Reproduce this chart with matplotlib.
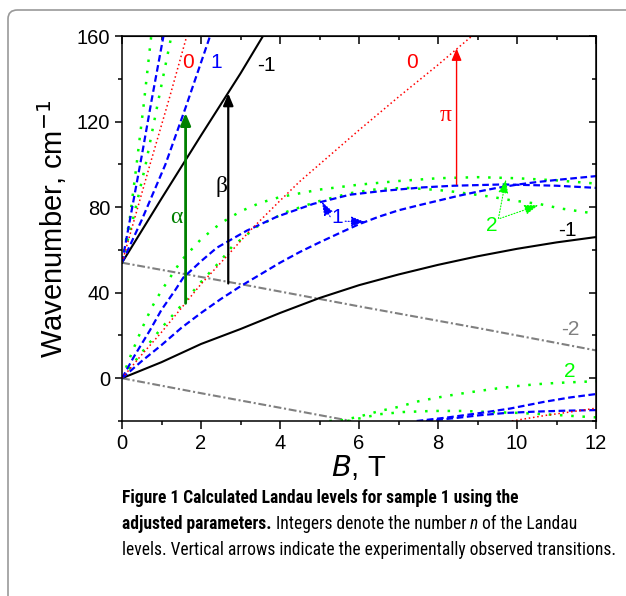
import matplotlib
matplotlib.use('Agg')
import matplotlib.pyplot as plt
from matplotlib.patches import FancyBboxPatch
from matplotlib.ticker import MultipleLocator

# ---- values (B in T, wavenumber in cm-1) ----
# levels that start at 0 cm-1
b_black_lo = [0, 1, 2, 3, 4, 5, 6, 7, 8, 9, 10, 11, 12]
v_black_lo = [0, 7.5, 16, 23, 30.5, 37.5, 43.5, 48.5, 53, 57, 60.5, 63.5, 66]
b_gray_lo = [0, 2, 4, 5.8]
v_gray_lo = [0, -7, -13.8, -20]
b_red_lo = [0, 0.5, 1, 1.6, 2, 2.7, 3.24, 4, 4.5, 5, 6, 7, 8, 8.86]
v_red_lo = [0, 11, 21.5, 35, 44, 58, 69, 83, 92, 100, 116, 131.5, 146.5, 160]
b_blueA_lo = [0, 0.3, 0.71, 1.0, 1.34, 1.55, 2.02, 2.4, 3.16, 3.92, 4.84, 5.77, 6.62, 7.6, 8.4, 9.65, 11, 12]
v_blueA_lo = [0, 10, 22.5, 32, 41, 47, 55, 61, 69, 75.5, 81.5, 85.8, 87.6, 89.2, 90, 90.6, 90, 89]
b_blueB_lo = [0, 0.5, 1, 1.5, 2, 2.5, 3, 3.5, 4, 4.5, 5, 5.5, 6, 6.5, 7, 7.5, 8, 8.5, 9, 9.5, 10, 10.5, 11, 11.5, 12]
v_blueB_lo = [0, 8, 15.5, 23.5, 30.5, 37, 43, 48.5, 54, 59, 63.5, 67.8, 72, 75.5, 78.5, 80.8, 83, 85.2, 87.2, 89, 90.5, 91.7, 92.7, 93.6, 94.5]
b_greenA_lo = [0, 0.25, 0.5, 0.75, 1, 1.5, 2, 2.5, 3, 3.5, 4, 5, 6, 7, 8, 9, 10, 11, 12]
v_greenA_lo = [0, 12, 23, 33, 41, 55, 65, 72.5, 78, 82, 84.7, 88.2, 90.5, 92.2, 93.5, 94, 93.5, 92.5, 91]
b_greenB_lo = [0, 0.5, 1, 1.5, 2, 2.5, 2.78, 3.41, 4.17, 4.93, 5.77, 6.5, 7.2, 8, 8.4, 9.36, 9.82, 10.58, 11.09, 11.85, 12]
v_greenB_lo = [0, 12, 23.5, 34, 45, 55, 61.4, 70.8, 77.8, 82.5, 86.5, 88.5, 89, 88, 87.2, 84.8, 83.3, 81.4, 79.4, 77.3, 77]

# levels that start at 54 cm-1
b_black_up = [0, 1, 2, 3, 3.57]
v_black_up = [54, 84, 113.5, 142.5, 160]
b_gray_up = [0, 3, 6, 9, 12]
v_gray_up = [54, 44, 33.6, 23.5, 13]
b_red_up = [0, 0.71, 1.2, 1.64]
v_red_up = [54, 100, 131, 160]
b_blueA_up = [0, 0.25, 0.5, 0.75, 1.05]
v_blueA_up = [54, 79, 104, 130, 160]
b_blueB_up = [0, 0.5, 1.1, 1.6, 2.23]
v_blueB_up = [54, 74, 100, 126, 160]
b_greenA_up = [0, 0.2, 0.37, 0.55, 0.74]
v_greenA_up = [54, 75, 100, 128, 160]
b_greenB_up = [0, 0.3, 0.6, 0.9, 1.25]
v_greenB_up = [54, 76, 100, 128, 160]

# levels coming in from below the frame
b_greenA_bt = [5.25, 5.6, 6.03, 6.53, 7.0, 7.5, 8.0, 8.47, 8.98, 9.49, 9.99, 10.5, 11.0, 12]
v_greenA_bt = [-20, -19.6, -17.8, -15.3, -13.4, -10.8, -9.0, -7.5, -6.1, -4.8, -3.7, -2.8, -2.2, -1.4]
b_greenB_bt = [5.7, 6.11, 6.53, 7.12, 7.88, 8.64, 9.32, 9.99, 10.67, 11.8, 12]
v_greenB_bt = [-20, -18.4, -16.8, -15.8, -15.3, -15.3, -15.8, -16.2, -16.8, -18.1, -18.3]
b_blueA_bt = [7.46, 8.22, 8.98, 9.82, 10.67, 11.34, 12]
v_blueA_bt = [-20, -18.4, -16.5, -14.2, -11.1, -9.0, -7.4]
b_blueB_bt = [7.7, 8.5, 9.06, 9.74, 10.5, 11.17, 12]
v_blueB_bt = [-20, -18.5, -17.3, -16.2, -15.6, -15.2, -14.9]
b_red_bt = [9.87, 10.75, 11.34, 12]
v_red_bt = [-20, -17.3, -15.8, -14.0]

# observed transitions: name, B, from, to
arrow_names = ['alpha', 'beta', 'pi']
arrow_b = [1.61, 2.69, 8.47]
arrow_from = [35, 44.3, 90.6]
arrow_to = [124, 133.2, 154.2]

W, H = 626, 596
fig = plt.figure(figsize=(W / 100, H / 100), dpi=100)
ax = fig.add_axes([122 / W, 1 - 421 / H, 474 / W, 385 / H])

blue = dict(color='#0000ff', lw=1.6, dashes=(3, 1.6))
green = dict(color='#00ff00', lw=1.8, dashes=(1, 3.5))
red = dict(color='#ff0000', lw=1.1, dashes=(1, 1.8))
gray = dict(color='#808080', lw=1.5, dashes=(3.8, 1.3, 1, 1.3))
black = dict(color='black', lw=1.5)

ax.plot(b_gray_lo, v_gray_lo, **gray)
ax.plot(b_gray_up, v_gray_up, **gray)
ax.plot(b_black_lo, v_black_lo, **black)
ax.plot(b_black_up, v_black_up, **black)
for bb, vv in [(b_greenA_lo, v_greenA_lo), (b_greenB_lo, v_greenB_lo),
               (b_greenA_up, v_greenA_up), (b_greenB_up, v_greenB_up),
               (b_greenA_bt, v_greenA_bt), (b_greenB_bt, v_greenB_bt)]:
    ax.plot(bb, vv, **green)
for bb, vv in [(b_blueA_lo, v_blueA_lo), (b_blueB_lo, v_blueB_lo),
               (b_blueA_up, v_blueA_up), (b_blueB_up, v_blueB_up),
               (b_blueA_bt, v_blueA_bt), (b_blueB_bt, v_blueB_bt)]:
    ax.plot(bb, vv, **blue)
for bb, vv in [(b_red_lo, v_red_lo), (b_red_up, v_red_up), (b_red_bt, v_red_bt)]:
    ax.plot(bb, vv, **red)

# vertical transition arrows
arrow_col = ['#008000', 'black', '#ff0000']
arrow_lw = [2.0, 1.6, 1.0]
for x, y0, y1, c, lw in zip(arrow_b, arrow_from, arrow_to, arrow_col, arrow_lw):
    ax.annotate('', xy=(x, y1), xytext=(x, y0),
                arrowprops=dict(arrowstyle='-|>,head_length=0.6,head_width=0.25',
                                color=c, lw=lw, mutation_scale=12, shrinkA=0, shrinkB=0))

serif = ['Liberation Serif', 'DejaVu Serif']
ax.text(1.37, 75.3, 'α', color='#008000', fontsize=17, family=serif, ha='center', va='center')
ax.text(2.53, 89.8, 'β', color='black', fontsize=17, family=serif, ha='center', va='center')
ax.text(8.2, 123, 'π', color='#ff0000', fontsize=17, family=serif, ha='center', va='center')

lab = dict(fontsize=15, family='Liberation Sans', ha='center', va='center')
ax.text(1.67, 147.4, '0', color='#ff0000', **lab)
ax.text(2.38, 147.8, '1', color='#0000ff', **lab)
ax.text(3.65, 146.4, '-1', color='black', **lab)
ax.text(7.34, 147.4, '0', color='#ff0000', **lab)
ax.text(11.27, 69.2, '-1', color='black', **lab)
ax.text(11.34, 22.9, '-2', color='#808080', **lab)
ax.text(11.34, 3.3, '2', color='#00ff00', **lab)
ax.text(5.44, 75.3, '1', color='#0000ff', **lab)
ax.text(9.36, 71.6, '2', color='#00ff00', **lab)

# small pointers from the level labels
def pointer(x0, y0, x1, y1, c):
    ax.annotate('', xy=(x1, y1), xytext=(x0, y0),
                arrowprops=dict(arrowstyle='-|>,head_length=0.7,head_width=0.25',
                                color=c, lw=0.8, ls=':', mutation_scale=12,
                                shrinkA=0, shrinkB=0))

pointer(5.27, 75.5, 5.06, 82.5, '#0000ff')
pointer(5.65, 73.4, 6.15, 73.1, '#0000ff')
pointer(9.53, 74.7, 9.72, 93.0, '#00ff00')
pointer(9.57, 74.7, 10.54, 80.9, '#00ff00')

ax.set_xlim(0, 12)
ax.set_ylim(-20, 160)
ax.set_xticks([0, 2, 4, 6, 8, 10, 12])
ax.set_yticks([0, 40, 80, 120, 160])
ax.xaxis.set_minor_locator(MultipleLocator(1))
ax.yaxis.set_minor_locator(MultipleLocator(20))
for s in ax.spines.values():
    s.set_linewidth(1.1)
ax.tick_params(which='major', direction='out', length=5.4, width=1.1, labelsize=14.5)
ax.tick_params(which='minor', direction='out', length=3.1, width=1.1)
ax.tick_params(axis='x', pad=3.8)
ax.tick_params(axis='y', pad=3)
for lbl in ax.get_xticklabels() + ax.get_yticklabels():
    lbl.set_family('Liberation Sans')

top = ax.secondary_xaxis('top')
top.set_xticks([0, 2, 4, 6, 8, 10, 12])
top.xaxis.set_minor_locator(MultipleLocator(1))
top.tick_params(which='major', direction='in', length=5.4, width=1.1, labeltop=False)
top.tick_params(which='minor', direction='in', length=3.1, width=1.1)
right = ax.secondary_yaxis('right')
right.set_yticks([0, 40, 80, 120, 160])
right.yaxis.set_minor_locator(MultipleLocator(20))
right.tick_params(which='major', direction='in', length=5.4, width=1.1, labelright=False)
right.tick_params(which='minor', direction='in', length=3.1, width=1.1)

plt.rcParams['mathtext.fontset'] = 'custom'
plt.rcParams['mathtext.rm'] = 'Liberation Sans'
plt.rcParams['mathtext.it'] = 'Liberation Sans:italic'
ax.set_xlabel('$B$, T', fontsize=21, family='Liberation Sans')
ax.xaxis.set_label_coords(0.5, -0.082)
ax.set_ylabel('Wavenumber, cm$^{-1}$', fontsize=21, family='Liberation Sans')
ax.yaxis.set_label_coords(-0.112, 0.5)

# caption, in a condensed face
renderer = fig.canvas.get_renderer()
cap_font = ['Roboto Condensed', 'Lato', 'DejaVu Sans']
line1 = [('Figure 1 Calculated Landau levels for sample 1 using the', 'bold', 'normal')]
line2 = [('adjusted parameters.', 'bold', 'normal'),
         (' Integers denote the number ', 'normal', 'normal'),
         ('n', 'normal', 'italic'),
         (' of the Landau', 'normal', 'normal')]
line3 = [('levels. Vertical arrows indicate the experimentally observed transitions.', 'normal', 'normal')]

def fit_size(s, weight, target):
    t = fig.text(0, 0, s, fontsize=10, fontweight=weight, family=cap_font)
    w = t.get_window_extent(renderer).width
    t.remove()
    return 10 * target / w

cap_size = min(13.5, fit_size(line3[0][0], 'normal', 490))

def put_runs(x_px, y_px, runs):
    x = x_px
    for s, weight, style in runs:
        t = fig.text(x / W, 1 - y_px / H, s, fontsize=cap_size, fontweight=weight,
                     fontstyle=style, family=cap_font, va='baseline', ha='left')
        x += t.get_window_extent(renderer).width

put_runs(122, 503, line1)
put_runs(122, 529, line2)
put_runs(122, 555, line3)

frame = FancyBboxPatch((8 / W, -0.1), 1.1, 1.1 - 10 / H + 0.0,
                       boxstyle='round,pad=0,rounding_size=0.015',
                       transform=fig.transFigure, fill=False,
                       edgecolor='#999999', lw=1.2, clip_on=False)
fig.patches.append(frame)

fig.savefig('out.png', dpi=100)
